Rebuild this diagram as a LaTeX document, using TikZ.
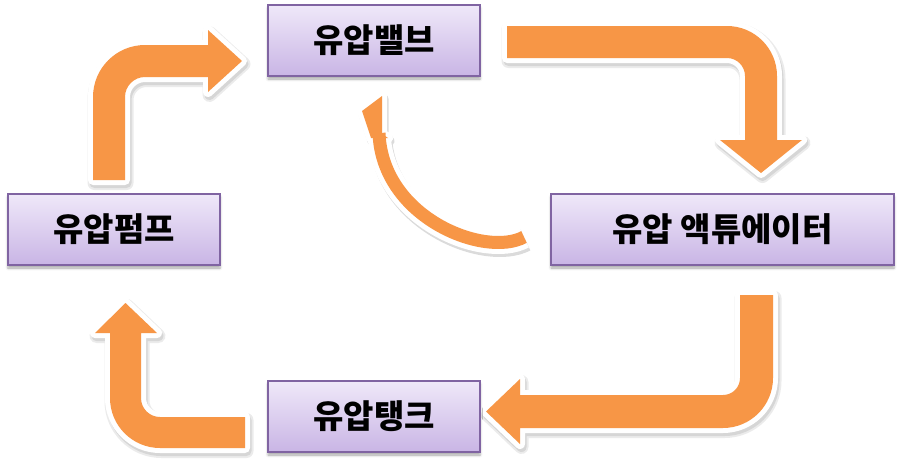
\documentclass[tikz,border=0pt]{standalone}
\usepackage{fontspec}
\newfontfamily\kr{Noto Sans CJK KR}[BoldFont={Noto Sans CJK KR Black}]
\usetikzlibrary{shadows.blur}
\definecolor{arr}{HTML}{F79646}
\definecolor{boxtop}{HTML}{EFE8F9}
\definecolor{boxbot}{HTML}{C9B5E5}
\definecolor{boxline}{HTML}{8064A2}
\newcommand\orangearrow[1]{%
  \path[fill=black!8, draw=black!8, line width=14pt, line join=round, shift={(1.5,3)}] #1;
  \path[fill=black!16, draw=black!16, line width=10pt, line join=round, shift={(1.5,3)}] #1;
  \path[draw=white, line width=10pt, line join=round] #1;
  \path[fill=arr] #1;
}
\begin{document}
\begin{tikzpicture}[x=1pt,y=-1pt,
  box/.style={rectangle, draw=boxline, line width=1.2pt, top color=boxtop, bottom color=boxbot,
    minimum height=71pt, inner sep=0pt, font=\kr\bfseries\fontsize{33}{33}\selectfont,
    blur shadow={shadow xshift=0pt, shadow yshift=-3pt, shadow blur radius=2.5pt, shadow opacity=35}}]
\useasboundingbox (0,0) rectangle (902,474);

% block arrows
\orangearrow{(507,26) -- (727,26) .. controls (754.6,26) and (777,48.4) .. (777,76) -- (777,140) -- (802,140) -- (761,173) -- (720,140) -- (745,140) -- (745,76) .. controls (745,66.1) and (736.9,58) .. (727,58) -- (507,58) -- cycle}
\orangearrow{(740,295) -- (773,295) -- (773,378) .. controls (773,405.6) and (750.6,428) .. (723,428) -- (520,428) -- (520,444) -- (486,411.5) -- (520,379) -- (520,395) -- (723,395) .. controls (732.4,395) and (740,387.4) .. (740,378) -- cycle}
\orangearrow{(245,417) -- (160,417) .. controls (149.5,417) and (141,408.5) .. (141,398) -- (141,333) -- (157,333) -- (125.5,303) -- (95,333) -- (110,333) -- (110,398) .. controls (110,425.6) and (132.4,448) .. (160,448) -- (245,448) -- cycle}
\orangearrow{(93,180) -- (93,97) .. controls (93,68.3) and (116.3,45) .. (145,45) -- (208,45) -- (208,30) -- (242,61) -- (208,92) -- (208,77) -- (145,77) .. controls (134,77) and (125,86) .. (125,97) -- (125,180) -- cycle}

% curved return arrow
\draw[black!14, line width=23pt, shift={(1.5,3)}] (524,237) .. controls (485,258) and (382,218) .. (379,133);
\path[fill=black!14, draw=black!14, line width=10pt, line join=round, shift={(1.5,3)}] (388,138) -- (382,134) -- (382,96) -- (362,111) -- (371,138) -- cycle;
\draw[white, line width=23pt] (524,237) .. controls (485,258) and (382,218) .. (379,133);
\path[draw=white, line width=10pt, line join=round] (388,138) -- (382,134) -- (382,96) -- (362,111) -- (371,138) -- cycle;
\draw[arr, line width=13pt] (524,237) .. controls (485,258) and (382,218) .. (379,133);
\path[fill=arr] (388,138) -- (382,134) -- (382,96) -- (362,111) -- (371,138) -- cycle;

% boxes
\node[box, minimum width=212pt] (valve) at (374,40.5) {유압밸브};
\node[box, minimum width=212pt] (pump) at (114,229.5) {유압펌프};
\node[box, minimum width=343pt] (act) at (722.5,229.5) {유압 액튜에이터};
\node[box, minimum width=212pt] (tank) at (374,416.5) {유압탱크};
\end{tikzpicture}
\end{document}
